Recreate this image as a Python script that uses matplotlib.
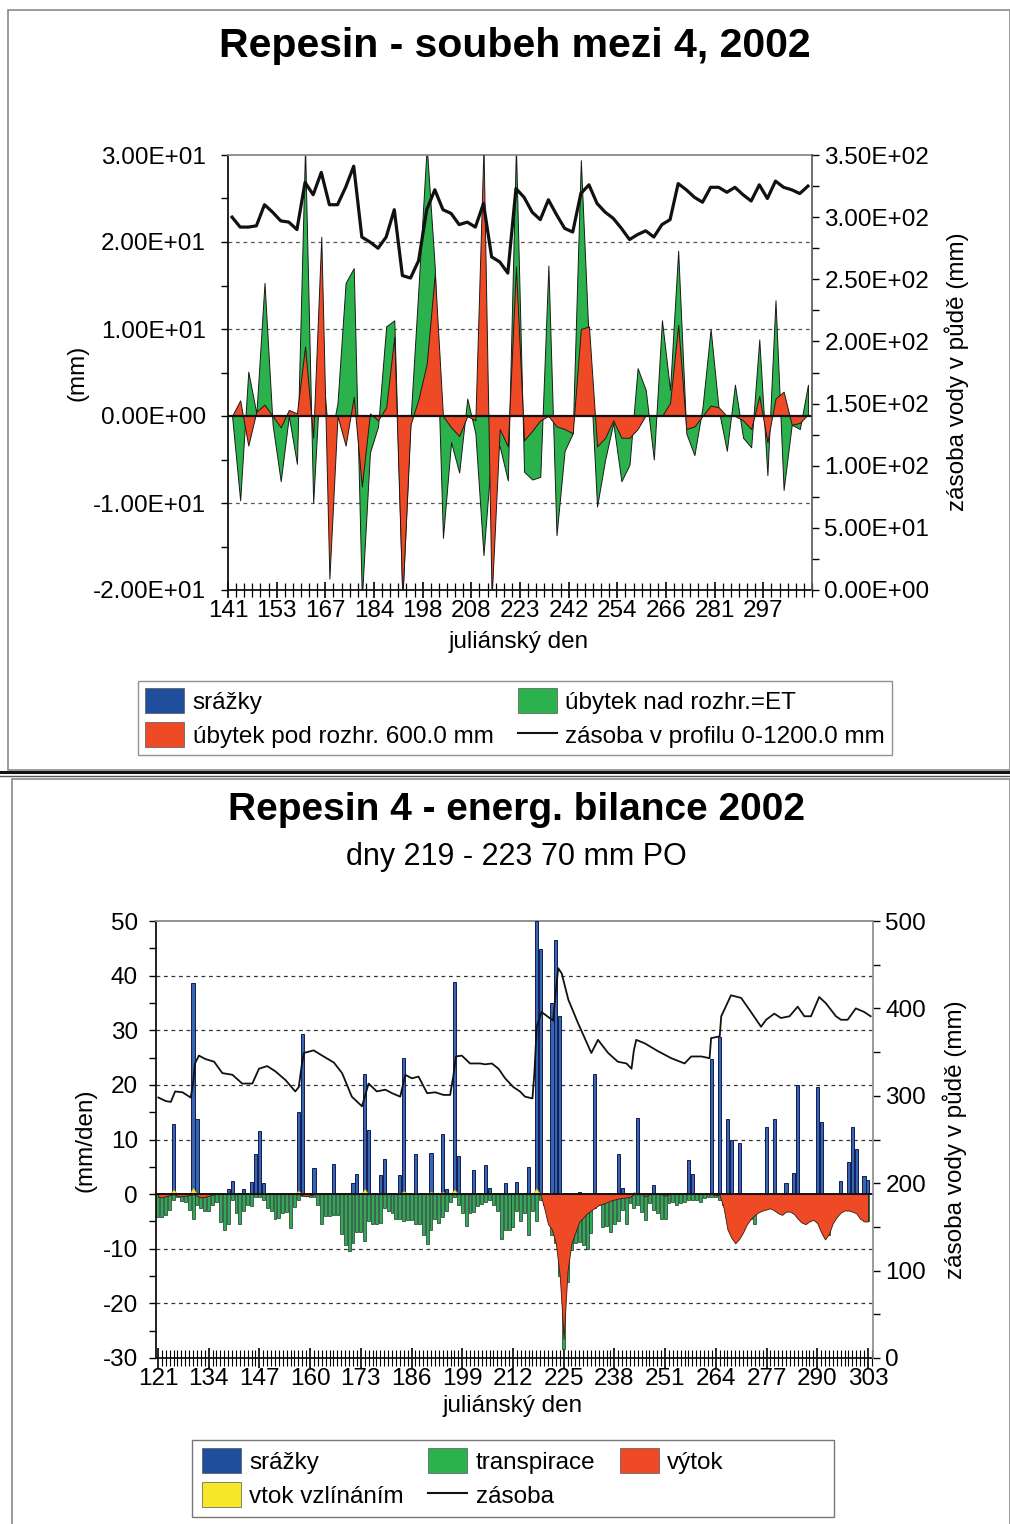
import numpy as np
import matplotlib
matplotlib.use('Agg')
import matplotlib.pyplot as plt
from matplotlib.patches import Rectangle, Patch
from matplotlib.lines import Line2D
from matplotlib.ticker import FuncFormatter, MultipleLocator, FixedLocator

plt.rcParams['font.family'] = ['Liberation Sans', 'DejaVu Sans']
plt.rcParams['axes.unicode_minus'] = False

# ---------------- top chart data (categorical, 72 records) ----------------
top_tick_labels = ['141', '153', '167', '184', '198', '208', '223', '242', '254', '266', '281', '297']
top_green = [0, -9.7, 5.1, 0.3, 15.3, -1, -7.5, 0, -5.5, 31, -10, 7, -3.5, 1.5, 15.3, 17, -21, -4.2,
             -1.2, 10.3, 11, -21, -0.5, 15, 31, 17, -14, -3, -6.5, 2, -2, -16, -4, -3.5, -7.4, 31,
             -6.4, -7.3, -7, 17.3, -13.7, -4, -2, 29.4, 8, -10.4, -5, -0.8, -7.5, -5.6, 5.5, 3,
             -5, 11, 3, 19, -2, -4.5, 1, 10, 0.7, -4, 3.6, -2.5, -3.6, 8.8, -6.8, 13.3, -8.5, -1, -1.5, 3.6]
top_red = [0, 1.8, -3.4, 0.5, 1.3, 0, -1.3, 0.7, 0.3, 8, -2.5, 20.6, -18.7, 0, -3.4, 2.2, -8.1, 0.3,
           -0.5, 1, 9.1, -21, -1, 2, 6, 16.4, 0, -1.3, -2.3, 0, -0.5, 31, -21, -1.5, -3.5, 17.2,
           -2.8, -1.7, -0.5, 0, -1.2, -1.5, -2, 10, 10.3, -3.5, -2.5, -0.5, -2.5, -2.5, -1.5, 0.1,
           0, 0, 1.5, 10.5, -1.5, -1.2, 0, 1.2, 1, 0, 0, -0.5, -1.5, 2.3, -3, 2, 2.8, -1, -0.8, 0.2]
top_store = [300, 292, 292, 293, 310, 304, 297, 296, 290, 328, 318, 336, 310, 310, 324, 341, 284, 280,
             275, 284, 306, 253, 251, 265, 306, 322, 306, 303, 294, 296, 292, 311, 268, 264, 255, 323,
             316, 304, 298, 314, 302, 291, 288, 319, 326, 311, 304, 299, 291, 282, 286, 289, 284, 294,
             298, 327, 322, 316, 312, 324, 324, 320, 324, 318, 313, 326, 315, 329, 324, 322, 319, 325]

# ---------------- bottom chart data (julian days) ----------------
rain_days = [125, 130, 131, 139, 140, 143, 145, 146, 147, 148, 157, 158, 161, 166, 171, 172, 174, 175,
             178, 179, 183, 184, 187, 191, 194, 195, 197, 198, 202, 205, 206, 210, 213, 216, 218, 219,
             222, 223, 224, 229, 233, 239, 240, 244, 248, 257, 258, 263, 265, 267, 268, 270, 277, 279,
             282, 284, 285, 290, 291, 296, 298, 299, 300, 302, 303]
rain_vals = [12.9, 38.6, 13.7, 0.9, 2.4, 0.9, 2.3, 7.4, 11.6, 2, 15.1, 29.3, 4.7, 5.5, 2, 3.6, 22, 11.8,
             3.5, 6.5, 3.5, 25, 7.4, 7.6, 11, 0.9, 38.9, 7, 4.4, 5.3, 1.2, 2, 2.2, 5, 50, 44.8,
             35, 46.5, 32.6, 0.4, 22, 7.4, 1.2, 13.9, 1.6, 6.3, 3.6, 24.8, 28.8, 13.7, 9.9, 9.3, 12.3, 13.7,
             2, 3.9, 20, 19.7, 13.2, 2.4, 5.9, 12.3, 8.2, 3.3, 2.6]

transp_first_day = 121
transp_vals = [-4.1, -4.1, -3.8, -2.9, -1, -0.5, -1.2, -1.5, -2.9, -4.5, -2, -2.5, -3, -3, -2, -1.5,
               -5.1, -6.6, -5.4, -1, -3.4, -5.5, -3, -2, -2.2, -0.5, -0.5, -1, -2.5, -3, -4.5, -4.3,
               -3.5, -3.3, -6.2, -2.3, -1, -0.3, -0.3, -0.5, -0.5, -2, -5.5, -4, -4, -3.8, -3.8, -7.3,
               -9.3, -10.4, -9, -7, -7, -8.6, -5, -5.5, -5.5, -5.3, -2.5, -3, -3.5, -4.5, -4.5, -5,
               -4.7, -4.7, -5.5, -5.5, -7.4, -9.1, -6.6, -4.5, -5.3, -4.2, -3, -1.5, -0.5, -2, -3.5,
               -5.9, -3.5, -3.2, -2.2, -1.8, -1.5, -1, -2, -3, -8.2, -6.5, -6.5, -6, -3, -5, -3.5,
               -7.5, -3, -5, -1, -2, -4.8, -7.5, -9, -15, -28.3, -16, -10.3, -9, -8.7, -9.3, -10,
               -7.2, -2.6, -2, -6, -5.9, -6.9, -5.4, -5, -2.9, -5.4, -1.7, -2.6, -2, -3.2, -4.8, -1.7,
               -2.9, -3.5, -4.5, -4.5, -1.7, -1.5, -2, -1.7, -1.4, -1.1, -1, -1, -1.4, -0.8, -0.5,
               -0.5, -0.5, -1, -2, -3, -3, -4, -4, -3, -4, -4.5, -5.4, -3, -2.5, -2, -2.5, -2.8, -3,
               -3.2, -2.5, -3, -3, -3.5, -4, -4, -3.5, -3.5, -4, -5, -5, -7.5, -4, -3.5, -3, -2.5,
               -2.5, -2.5, -3, -3.5, -4, -5]

outflow_days = [121, 122, 123, 124, 125, 126, 127, 128, 129, 130, 131, 132, 133, 134, 135, 136, 157, 158,
                159, 160, 161, 218, 219, 220, 221, 222, 223, 224, 225, 226, 227, 228, 229, 230, 231, 232,
                233, 234, 235, 236, 237, 238, 239, 240, 241, 242, 246, 251, 264, 265, 266, 267, 268, 269,
                270, 271, 272, 273, 274, 275, 276, 277, 278, 279, 280, 281, 282, 283, 284, 285, 286, 287,
                288, 289, 290, 291, 292, 293, 294, 295, 296, 297, 298, 299, 300, 301, 302, 303]
outflow_vals = [-0.5, -0.6, -0.4, -0.2, 0, -0.3, -0.4, -0.3, -0.2, 0, -0.3, -0.6, -0.5, -0.3, -0.1, 0, 0,
                -0.2, -0.4, -0.2, 0, 0, 0, -2.5, -5.5, -6.5, -9, -15, -26.5, -14, -9, -7, -5, -4.3, -3.5,
                -3, -2.5, -2, -1.8, -1.5, -1.2, -1, -0.8, -0.7, -0.6, -0.5, -0.4, -0.3, -0.2, -0.2, -2.5,
                -6.5, -8, -9, -8.2, -7, -5.5, -4.5, -3.8, -3.3, -3, -2.8, -2.6, -3, -3.5, -3.8, -3.2,
                -3.2, -3.6, -4.5, -5.2, -5.5, -5, -4.7, -5.3, -7, -8.3, -7.3, -5.3, -4.2, -3.4, -3, -3,
                -3.2, -3.5, -4.5, -5, -5]

capil_days = [125, 130, 157, 174, 184, 191, 194, 197, 218, 243]
capil_vals = [0.9, 1.2, 0.7, 1.0, 0.6, 0.5, 0.5, 0.9, 1.1, 0.4]

store_days = [121.1, 123, 124.3, 125.4, 127.3, 129.4, 130, 130.5, 131.5, 133.2, 135.4, 137.5, 140.1,
              142.6, 145.2, 146.9, 149, 151.1, 153.7, 156.2, 157.1, 157.8, 158.4, 160.9, 163.1, 166.1,
              168.2, 170.7, 173.3, 175, 177.1, 179.3, 181, 183.1, 184.4, 186.1, 187.8, 190, 192.1,
              194.2, 195.9, 196.7, 197.4, 198.9, 201, 203.6, 204.9, 206.6, 208.3, 210, 212.1, 213.8,
              215.1, 217, 217.5, 218.1, 219.3, 220.2, 222.3, 222.7, 223.6, 224.5, 226.2, 228.7, 232.1,
              233.8, 236.4, 238.9, 241.1, 242.4, 243, 243.6, 245.8, 249.2, 252.6, 256, 257.7, 260.3,
              262.4, 262.8, 265, 265.4, 267.9, 270.5, 273, 275.6, 276.9, 279, 280.7, 282.9, 285, 286.7,
              288.4, 290.5, 292.2, 294.8, 296.1, 297.8, 299.9, 302, 303.7]
store_vals = [298, 294, 293, 305, 304, 298, 314, 337, 346, 342, 339, 326, 324, 314, 314, 331, 334, 328,
              318, 305, 310, 333, 349, 352, 346, 338, 326, 299, 288, 314, 305, 307, 303, 299, 324, 320,
              322, 303, 304, 301, 301, 322, 345, 346, 337, 337, 336, 337, 331, 320, 310, 305, 299, 297,
              326, 379, 396, 393, 386, 406, 446, 440, 410, 383, 349, 364, 349, 339, 337, 331, 352, 364,
              360, 351, 343, 337, 345, 345, 343, 366, 368, 391, 415, 412, 396, 379, 387, 394, 389, 391,
              402, 391, 391, 413, 406, 391, 387, 387, 400, 396, 391]
bottom_tick_days = [121, 134, 147, 160, 173, 186, 199, 212, 225, 238, 251, 264, 277, 290, 303]

# ---------------- figure ----------------
W, H = 1010, 1524
fig = plt.figure(figsize=(W / 100, H / 100), dpi=100)
def fx(p): return p / W
def fy(p): return 1 - p / H

# panel frames
fig.add_artist(Rectangle((fx(8), fy(770)), fx(1010) - fx(8), (770 - 10) / H, transform=fig.transFigure,
                         fill=False, edgecolor='#8a8a8a', lw=1.2))
fig.add_artist(Rectangle((fx(12), fy(1530)), fx(1010) - fx(12), (1530 - 779) / H, transform=fig.transFigure,
                         fill=False, edgecolor='#8a8a8a', lw=1.2))
fig.add_artist(Line2D([0, 1], [fy(772), fy(772)], transform=fig.transFigure, color='#111', lw=2.2))
fig.add_artist(Line2D([0, 1], [fy(776.5), fy(776.5)], transform=fig.transFigure, color='#555', lw=1.0))

FS = 17.5
GREEN = '#2bb24c'
RED = '#ef4a26'
BLUE = '#1f4e9c'
YELLOW = '#f7e72a'

# ================= TOP CHART =================
ax = fig.add_axes([fx(228), fy(590), (812 - 228) / W, (590 - 155) / H])
n = len(top_green)
x = np.arange(n) + 0.5
ax.fill_between(x, 0, top_green, facecolor=GREEN, edgecolor='#1a1a1a', lw=0.7, zorder=2)
ax.fill_between(x, 0, top_red, facecolor=RED, edgecolor='#1a1a1a', lw=0.7, zorder=3)
ax.set_xlim(0, n)
ax.set_ylim(-20, 30)
for g in [20, 10, -10]:
    ax.axhline(g, color='#555', lw=0.9, ls=(0, (3, 3)), zorder=1)
ax.axhline(0, color='#111', lw=1.6, zorder=5)
ax.yaxis.set_major_locator(MultipleLocator(10))
ax.yaxis.set_minor_locator(MultipleLocator(5))
ax.yaxis.set_major_formatter(FuncFormatter(lambda v, p: f"{v:.2E}"))
ax.xaxis.set_major_locator(FixedLocator([i * 6 for i in range(len(top_tick_labels))]))
ax.set_xticklabels(top_tick_labels)
ax.xaxis.set_minor_locator(MultipleLocator(1))
ax.tick_params(axis='x', which='major', direction='inout', length=12, width=1.2, labelsize=FS, pad=1)
ax.tick_params(axis='x', which='minor', direction='inout', length=10, width=0.9)
ax.tick_params(axis='y', which='both', direction='out', length=5, width=1, labelsize=FS, pad=11)
for s in ['left', 'bottom']:
    ax.spines[s].set_color('#111'); ax.spines[s].set_linewidth(1.3)
ax.spines['top'].set_color('#8a8a8a'); ax.spines['top'].set_linewidth(1.3)
ax.spines['right'].set_visible(False)

ax2 = ax.twinx()
ax2.plot(x, top_store, color='#111', lw=2.3, zorder=6)
ax2.set_ylim(0, 350)
ax2.yaxis.set_major_locator(MultipleLocator(50))
ax2.yaxis.set_minor_locator(MultipleLocator(25))
ax2.yaxis.set_major_formatter(FuncFormatter(lambda v, p: f"{v:.2E}"))
ax2.tick_params(axis='y', which='both', direction='out', length=5, width=1, labelsize=FS, pad=4)
ax2.spines['right'].set_color('#555'); ax2.spines['right'].set_linewidth(1.2)
for s in ['left', 'top', 'bottom']:
    ax2.spines[s].set_visible(False)

fig.text(fx(515), fy(46), 'Repesin - soubeh mezi 4, 2002', ha='center', va='center',
         fontsize=29.5, fontweight='bold')
fig.text(fx(78), fy(373), '(mm)', rotation=90, ha='center', va='center', fontsize=FS)
fig.text(fx(957), fy(372), 'zásoba vody v půdě (mm)', rotation=90, ha='center', va='center', fontsize=FS)
fig.text(fx(519), fy(642), 'juliánský den', ha='center', va='center', fontsize=FS)

h_top = [Patch(facecolor=BLUE, edgecolor='#555', lw=0.5, label='srážky'),
         Patch(facecolor=RED, edgecolor='#555', lw=0.5, label='úbytek pod rozhr. 600.0 mm'),
         Patch(facecolor=GREEN, edgecolor='#555', lw=0.5, label='úbytek nad rozhr.=ET'),
         Line2D([], [], color='#111', lw=1.5, label='zásoba v profilu 0-1200.0 mm')]
lg = fig.legend(handles=h_top, loc='center', bbox_to_anchor=(fx(515), fy(718)), ncol=2,
                fontsize=FS, frameon=True, fancybox=False, edgecolor='#777', handlelength=1.6,
                handleheight=1.2, handletextpad=0.35, columnspacing=1.0, labelspacing=0.35,
                borderpad=0.3, borderaxespad=0)
lg.get_frame().set_linewidth(1.0)

# ================= BOTTOM CHART =================
bx = fig.add_axes([fx(156), fy(1358), (873 - 156) / W, (1358 - 921) / H])
tdays = np.arange(transp_first_day, transp_first_day + len(transp_vals))
bx.bar(tdays, transp_vals, width=0.75, color='#33a85a', edgecolor='#173a22', lw=0.5, zorder=2)

out_all = np.zeros(len(tdays))
for d, v in zip(outflow_days, outflow_vals):
    out_all[d - transp_first_day] = v
bx.fill_between(tdays, 0, out_all, facecolor=RED, edgecolor='#3a1a10', lw=0.6, zorder=3)

cap_all = np.zeros(len(tdays))
for d, v in zip(capil_days, capil_vals):
    cap_all[d - transp_first_day] = v
bx.fill_between(tdays, 0, cap_all, facecolor=YELLOW, edgecolor='#b0a020', lw=0.4, zorder=4)

bx.bar(rain_days, rain_vals, width=0.8, color='#3566b0', edgecolor='#141a55', lw=0.7, zorder=3)

bx.set_xlim(120.5, 304.3)
bx.set_ylim(-30, 50)
for g in [40, 30, 20, 10, -10, -20]:
    bx.axhline(g, color='#333', lw=0.9, ls=(0, (3, 3)), zorder=1)
bx.axhline(0, color='#111', lw=1.4, zorder=5)
bx.yaxis.set_major_locator(MultipleLocator(10))
bx.yaxis.set_minor_locator(MultipleLocator(5))
bx.xaxis.set_major_locator(FixedLocator(bottom_tick_days))
bx.xaxis.set_minor_locator(MultipleLocator(1))
bx.tick_params(axis='x', which='major', direction='inout', length=14, width=1.2, labelsize=FS, pad=0)
bx.tick_params(axis='x', which='minor', direction='inout', length=12, width=0.8)
bx.tick_params(axis='y', which='both', direction='out', length=5, width=1, labelsize=FS, pad=8)
for s in ['left', 'bottom']:
    bx.spines[s].set_color('#111'); bx.spines[s].set_linewidth(1.3)
bx.spines['top'].set_color('#8a8a8a'); bx.spines['top'].set_linewidth(1.3)
bx.spines['right'].set_visible(False)

bx2 = bx.twinx()
bx2.plot(store_days, store_vals, color='#111', lw=1.3, zorder=6)
bx2.set_ylim(0, 500)
bx2.yaxis.set_major_locator(MultipleLocator(100))
bx2.yaxis.set_minor_locator(MultipleLocator(50))
bx2.tick_params(axis='y', which='both', direction='out', length=5, width=1, labelsize=FS, pad=4)
bx2.spines['right'].set_color('#8a8a8a'); bx2.spines['right'].set_linewidth(1.2)
for s in ['left', 'top', 'bottom']:
    bx2.spines[s].set_visible(False)

fig.text(fx(517), fy(810), 'Repesin 4 - energ. bilance 2002', ha='center', va='center',
         fontsize=28, fontweight='bold')
fig.text(fx(516), fy(857), 'dny 219 - 223 70 mm PO', ha='center', va='center', fontsize=22)
fig.text(fx(85), fy(1140), '(mm/den)', rotation=90, ha='center', va='center', fontsize=FS)
fig.text(fx(955), fy(1140), 'zásoba vody v půdě (mm)', rotation=90, ha='center', va='center', fontsize=FS)
fig.text(fx(513), fy(1406), 'juliánský den', ha='center', va='center', fontsize=FS)

# bottom legend: frame drawn separately to match the wide box
fig.add_artist(Rectangle((fx(192), fy(1517)), fx(834) - fx(192), (1517 - 1440) / H,
                         transform=fig.transFigure, fill=False, edgecolor='#777', lw=1.0))
h_bot = [Patch(facecolor=BLUE, edgecolor='#555', lw=0.5, label='srážky'),
         Patch(facecolor=YELLOW, edgecolor='#555', lw=0.5, label='vtok vzlínáním'),
         Patch(facecolor='#2bb24c', edgecolor='#555', lw=0.5, label='transpirace'),
         Line2D([], [], color='#111', lw=1.5, label='zásoba'),
         Patch(facecolor=RED, edgecolor='#555', lw=0.5, label='výtok')]
lg2 = fig.legend(handles=h_bot, loc='upper left', bbox_to_anchor=(fx(202), fy(1448)), ncol=3,
                 fontsize=FS, frameon=False, handlelength=1.6,
                 handleheight=1.2, handletextpad=0.35, columnspacing=1.0, labelspacing=0.36,
                 borderpad=0, borderaxespad=0)

fig.savefig('out.png', dpi=100)
